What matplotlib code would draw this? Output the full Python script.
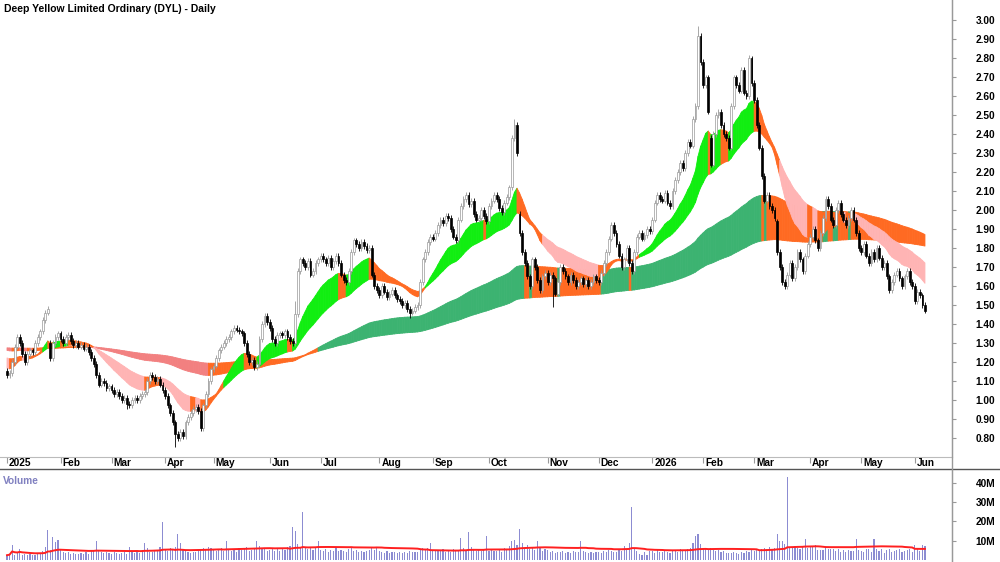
import numpy as np
import pandas as pd
import matplotlib
matplotlib.use("Agg")
import matplotlib.pyplot as plt
import matplotlib.transforms as mtransforms
from matplotlib.collections import PolyCollection
from matplotlib.lines import Line2D

plt.rcParams['font.family'] = ['Liberation Sans', 'DejaVu Sans']
plt.rcParams['font.weight'] = 'bold'

# daily closes
c_jan25 = [1.13, 1.14, 1.20, 1.28, 1.33, 1.30, 1.24, 1.20, 1.24, 1.26, 1.25, 1.30, 1.33, 1.36, 1.42, 1.46, 1.48, 1.22, 1.30, 1.33, 1.35]
c_feb25 = [1.32, 1.30, 1.33, 1.34, 1.31, 1.29, 1.30, 1.28, 1.29, 1.27, 1.28, 1.25, 1.22, 1.19, 1.13, 1.08, 1.10, 1.09, 1.06, 1.07]
c_mar25 = [1.05, 1.03, 1.04, 1.02, 1.00, 1.01, 0.98, 0.97, 1.00, 1.01, 1.00, 1.02, 1.03, 1.04, 1.10, 1.13, 1.12, 1.10, 1.11, 1.08, 1.05]
c_apr25 = [1.02, 0.97, 0.93, 0.88, 0.82, 0.80, 0.83, 0.81, 0.88, 0.91, 0.93, 0.95, 0.96, 0.94, 0.85, 0.97, 1.03, 1.10, 1.16]
c_may25 = [1.18, 1.22, 1.26, 1.28, 1.30, 1.32, 1.33, 1.36, 1.38, 1.37, 1.36, 1.35, 1.30, 1.24, 1.20, 1.21, 1.17, 1.19, 1.32, 1.40, 1.44, 1.41]
c_jun25 = [1.38, 1.32, 1.30, 1.34, 1.35, 1.34, 1.36, 1.33, 1.31, 1.30, 1.45, 1.68, 1.74, 1.72, 1.70, 1.73, 1.66, 1.68, 1.72, 1.74]
c_jul25 = [1.76, 1.74, 1.72, 1.75, 1.70, 1.73, 1.76, 1.72, 1.66, 1.63, 1.62, 1.68, 1.78, 1.84, 1.82, 1.80, 1.83, 1.81, 1.79, 1.80, 1.66, 1.60, 1.58]
c_aug25 = [1.55, 1.60, 1.57, 1.54, 1.56, 1.58, 1.55, 1.53, 1.52, 1.50, 1.51, 1.48, 1.46, 1.47, 1.49, 1.50, 1.62, 1.74, 1.78, 1.83, 1.86]
c_sep25 = [1.85, 1.88, 1.92, 1.95, 1.93, 1.97, 1.96, 1.90, 1.86, 1.84, 1.95, 2.02, 2.06, 2.08, 2.03, 2.05, 1.98, 1.95, 1.96, 2.00, 1.97, 1.94]
c_oct25 = [2.02, 2.05, 2.08, 2.06, 2.01, 1.99, 2.04, 2.07, 2.12, 2.38, 2.45, 2.30, 1.88, 1.78, 1.72, 1.65, 1.60, 1.74, 1.70, 1.63, 1.58, 1.65, 1.67]
c_nov25 = [1.62, 1.66, 1.64, 1.56, 1.62, 1.70, 1.68, 1.65, 1.62, 1.66, 1.63, 1.60, 1.62, 1.64, 1.61, 1.63, 1.60, 1.62, 1.65, 1.63]
c_dec25 = [1.62, 1.67, 1.72, 1.78, 1.85, 1.92, 1.88, 1.82, 1.76, 1.70, 1.74, 1.80, 1.72, 1.68, 1.78, 1.86, 1.88, 1.85, 1.87, 1.90, 1.89]
c_jan26 = [1.95, 2.04, 2.08, 2.06, 2.05, 2.09, 2.04, 2.02, 2.10, 2.16, 2.20, 2.25, 2.22, 2.30, 2.36, 2.34, 2.48, 2.55, 2.92, 2.78]
c_feb26 = [2.66, 2.70, 2.52, 2.24, 2.40, 2.50, 2.52, 2.45, 2.40, 2.38, 2.33, 2.55, 2.70, 2.66, 2.63, 2.74, 2.62, 2.60, 2.80, 2.67]
c_mar26 = [2.58, 2.45, 2.33, 2.18, 2.05, 2.08, 2.02, 2.00, 1.96, 1.78, 1.70, 1.62, 1.60, 1.66, 1.72, 1.64, 1.70, 1.78, 1.74, 1.68, 1.76, 1.82]
c_apr26 = [1.86, 1.90, 1.84, 1.80, 1.88, 1.96, 2.06, 2.02, 1.95, 1.92, 2.00, 2.04, 1.98, 1.95, 1.92, 1.96, 2.00, 1.95, 1.88, 1.80]
c_may26 = [1.78, 1.82, 1.76, 1.72, 1.78, 1.74, 1.80, 1.75, 1.70, 1.72, 1.65, 1.58, 1.62, 1.66, 1.68, 1.64, 1.60, 1.65, 1.68, 1.62, 1.60]
c_jun26 = [1.52, 1.57, 1.55, 1.50, 1.47]

# daily volume in millions
v_jan25 = [2.5, 3.0, 7.8, 2.8, 3.4, 5.7, 2.6, 3.0, 2.4, 3.2, 2.8, 2.5, 3.6, 3.0, 4.5, 6.5, 15.5, 5.0, 12.0, 9.3, 10.5]
v_feb25 = [5.5, 4.0, 3.5, 4.2, 3.0, 3.8, 3.2, 2.9, 3.5, 3.1, 4.0, 3.3, 4.6, 5.2, 10.0, 4.8, 4.1, 3.6, 3.9, 3.4]
v_mar25 = [3.2, 4.4, 3.6, 2.9, 3.8, 4.1, 3.3, 7.0, 4.0, 3.5, 4.3, 3.7, 5.0, 9.0, 6.2, 4.4, 3.9, 4.6, 5.1, 6.8, 19.7]
v_apr25 = [5.8, 4.9, 6.1, 5.2, 6.5, 13.5, 8.9, 5.4, 4.6, 4.1, 3.8, 4.4, 3.9, 4.7, 5.0, 6.2, 5.5, 7.0, 6.0]
v_may25 = [5.6, 4.8, 5.3, 6.0, 4.9, 10.0, 5.8, 4.7, 5.2, 4.4, 6.3, 5.0, 5.9, 6.8, 4.6, 5.1, 6.0, 10.0, 7.2, 6.4, 5.5, 4.9]
v_jun25 = [5.0, 6.2, 4.8, 5.5, 4.6, 5.9, 5.2, 6.6, 7.4, 17.0, 14.8, 8.5, 6.0, 25.0, 6.8, 5.7, 6.4, 5.3, 6.1, 10.0]
v_jul25 = [5.2, 4.6, 5.8, 4.3, 5.0, 4.8, 6.1, 4.5, 5.4, 4.9, 4.2, 5.6, 6.2, 4.7, 5.1, 4.4, 4.8, 3.9, 4.5, 5.3, 6.0, 5.2, 7.0]
v_aug25 = [4.6, 4.1, 3.8, 4.5, 3.6, 4.2, 3.9, 3.4, 4.4, 3.7, 4.0, 3.5, 4.8, 3.9, 4.3, 4.1, 5.6, 6.4, 5.8, 6.2, 9.0]
v_sep25 = [5.4, 4.8, 5.1, 4.6, 5.5, 4.2, 4.9, 4.4, 5.8, 4.5, 5.0, 11.5, 6.2, 5.3, 14.5, 6.8, 5.2, 4.7, 5.6, 4.9, 5.8, 12.4]
v_oct25 = [4.8, 5.2, 4.5, 4.9, 5.6, 4.3, 6.0, 5.4, 7.2, 10.0, 10.3, 8.0, 16.0, 9.0, 6.4, 7.6, 5.8, 6.3, 5.2, 10.0, 6.1, 4.8, 5.5]
v_nov25 = [5.3, 4.2, 4.8, 3.6, 4.4, 3.9, 4.6, 3.8, 4.1, 3.5, 4.7, 3.9, 4.3, 10.0, 4.9, 4.0, 3.7, 4.2, 3.6, 4.4]
v_dec25 = [4.1, 3.8, 4.6, 4.2, 5.0, 4.7, 3.9, 4.4, 5.2, 4.8, 7.5, 5.6, 9.0, 27.5, 6.2, 4.9, 3.2, 2.6, 4.0, 2.5, 4.5]
v_jan26 = [4.5, 3.6, 5.0, 4.4, 3.9, 4.8, 4.2, 3.7, 4.6, 5.4, 4.1, 5.8, 5.2, 4.7, 5.5, 6.2, 9.0, 12.6, 13.3, 8.5]
v_feb26 = [5.6, 6.0, 5.2, 6.4, 5.0, 4.6, 5.3, 4.2, 4.8, 3.6, 3.8, 3.7, 4.4, 3.5, 3.2, 4.0, 3.6, 4.9, 4.3, 5.5]
v_mar26 = [4.8, 5.6, 5.2, 5.8, 6.4, 5.9, 6.6, 5.4, 6.1, 13.3, 10.0, 10.0, 8.2, 43.0, 7.0, 6.0, 7.5, 6.4, 5.6, 6.8, 10.7, 6.2]
v_apr26 = [6.5, 6.9, 8.0, 5.4, 5.0, 5.2, 6.1, 5.8, 5.5, 5.7, 4.9, 5.6, 4.2, 5.3, 4.4, 5.0, 4.6, 4.8, 11.0, 5.4]
v_may26 = [4.9, 4.2, 5.6, 5.6, 4.4, 11.0, 5.8, 4.6, 5.5, 3.8, 5.2, 5.6, 4.0, 4.8, 5.3, 5.7, 4.3, 4.7, 5.1, 5.5, 4.4]
v_jun26 = [8.0, 5.6, 4.8, 8.0, 7.2]

# opening gaps, and wick extremes that stand out
gap_idx = [17, 201, 276, 296, 302]
gap_open = [1.30, 1.98, 2.38, 2.33, 1.94]
hi_idx = [16, 113, 199, 271, 291]
hi_val = [1.49, 1.52, 2.48, 2.97, 2.82]
lo_idx = [47, 66, 158, 214]
lo_val = [0.95, 0.75, 1.43, 1.49]
first_open = 1.15

# moving average groups and their starting levels (Dec 2024)
short_spans = [18, 21, 25, 30, 35, 40]
short_seed = [1.17, 1.185, 1.195, 1.205, 1.215, 1.225]
long_spans = [125, 150, 175, 200, 225, 250]
long_seed = [1.262, 1.265, 1.267, 1.27, 1.272, 1.275]

holidays = ["2025-01-27", "2025-04-18", "2025-04-21", "2025-04-25", "2025-06-09",
            "2025-12-25", "2025-12-26", "2026-01-01", "2026-01-26", "2026-04-03",
            "2026-04-06", "2026-06-08"]

close = np.array(c_jan25 + c_feb25 + c_mar25 + c_apr25 + c_may25 + c_jun25 + c_jul25 + c_aug25
                 + c_sep25 + c_oct25 + c_nov25 + c_dec25 + c_jan26 + c_feb26 + c_mar26 + c_apr26
                 + c_may26 + c_jun26)
volume = np.array(v_jan25 + v_feb25 + v_mar25 + v_apr25 + v_may25 + v_jun25 + v_jul25 + v_aug25
                  + v_sep25 + v_oct25 + v_nov25 + v_dec25 + v_jan26 + v_feb26 + v_mar26 + v_apr26
                  + v_may26 + v_jun26)
n = min(len(close), len(volume))
close = close[:n]
volume = volume[:n]
dates = pd.bdate_range("2025-01-02", periods=n, freq="C", holidays=holidays)
x = np.arange(n)

opens = np.r_[first_open, close[:-1]]
for i, o in zip(gap_idx, gap_open):
    opens[i] = o
wick = 0.015
high = np.maximum(opens, close) + wick
low = np.minimum(opens, close) - wick
for i, v in zip(hi_idx, hi_val):
    high[i] = max(high[i], v)
for i, v in zip(lo_idx, lo_val):
    low[i] = min(low[i], v)


def ema(vals, span, seed):
    a = 2.0 / (span + 1)
    out = np.empty(len(vals))
    p = seed
    for k, v in enumerate(vals):
        p += a * (v - p)
        out[k] = p
    return out


def ribbon(ax, spans, seeds, colors, z):
    lines = np.array([ema(close, s, sd) for s, sd in zip(spans, seeds)])
    d = np.diff(lines, axis=0)
    slope = np.r_[0, np.diff(lines[0])]
    bull = (d < 0).all(0) & (slope >= 0)
    bear = (d > 0).all(0) & (slope <= 0)
    state = np.where(bull, 0, np.where(bear, 1, 2))
    top, bot = lines.max(0), lines.min(0)
    polys, cols = [], []
    for i in range(1, n):
        polys.append([(i - 1, bot[i - 1]), (i, bot[i]), (i, top[i]), (i - 1, top[i - 1])])
        cols.append(colors[state[i]])
    ax.add_collection(PolyCollection(polys, facecolors=cols, edgecolors=cols,
                                     linewidths=0.6, zorder=z))


fig = plt.figure(figsize=(10, 5.62), dpi=100)
ax = fig.add_axes([0, 1 - 457 / 562, 0.952, 457 / 562])
axv = fig.add_axes([0, 0, 0.952, 93 / 562])

# ribbons: bullish / bearish / turning
ribbon(ax, long_spans, long_seed, ['#3cb371', '#f28080', '#ff6a22'], 1)
ribbon(ax, short_spans, short_seed, ['#11ee11', '#ffb4b4', '#ff6a22'], 2)

up = close >= opens
body_lo = np.minimum(opens, close)
body_h = np.maximum(np.abs(close - opens), 0.005)
ax.vlines(x[up], low[up], high[up], color='#999999', lw=0.6, zorder=3)
ax.vlines(x[~up], low[~up], high[~up], color='black', lw=0.6, zorder=3)
ax.bar(x[up], body_h[up], bottom=body_lo[up], width=0.72, facecolor='white',
       edgecolor='#999999', lw=0.5, zorder=4)
ax.bar(x[~up], body_h[~up], bottom=body_lo[~up], width=0.72, facecolor='black',
       edgecolor='black', lw=0.5, zorder=4)

xl = (-2.75, 370.6)
ax.set_xlim(*xl)
ax.set_ylim(0.698, 3.108)
ax.yaxis.tick_right()
ax.set_yticks(np.arange(0.8, 3.01, 0.1))
ax.set_yticklabels([f"{v:.2f}" for v in np.arange(0.8, 3.01, 0.1)])
ax.tick_params(axis='y', length=3, color='#999999', labelsize=7.3, pad=14)
for s in ['top', 'left']:
    ax.spines[s].set_visible(False)
ax.spines['right'].set_color('#999999')
ax.spines['bottom'].set_color('#bbbbbb')

# month ticks and labels
first = np.r_[0, np.where(dates.month[1:] != dates.month[:-1])[0] + 1]
ax.set_xticks(first)
ax.set_xticklabels([])
ax.tick_params(axis='x', length=4, color='#999999')
trans = mtransforms.offset_copy(ax.get_xaxis_transform(), fig=fig, x=2, y=-1.5, units='dots')
for i in first:
    d = dates[i]
    lab = str(d.year) if d.month == 1 else d.strftime('%b')
    ax.text(i, 0, lab, transform=trans, ha='left', va='top', fontsize=7.3, fontweight='bold')

fig.text(0.004, 0.992, 'Deep Yellow Limited Ordinary (DYL) - Daily', ha='left', va='top',
         fontsize=7.5, fontweight='bold')

# volume panel
axv.bar(x, volume, width=0.45, color='#8c8cd2', zorder=2)
avg = pd.Series(volume).rolling(50, min_periods=1).mean()
axv.plot(x, avg, color='#ff2020', lw=1.4, zorder=3)
axv.set_xlim(*xl)
axv.set_ylim(-1.04, 47.2)
axv.yaxis.tick_right()
axv.set_yticks([10, 20, 30, 40])
axv.set_yticklabels(['10M', '20M', '30M', '40M'])
axv.tick_params(axis='y', length=3, color='#999999', labelsize=7.3, pad=14)
axv.set_xticks([])
for s in ['top', 'left', 'bottom']:
    axv.spines[s].set_visible(False)
axv.spines['right'].set_color('#999999')
axv.text(0.003, 0.93, 'Volume', transform=axv.transAxes, ha='left', va='top',
         fontsize=7.3, fontweight='bold', color='#8080c0')

fig.add_artist(Line2D([0, 1], [93 / 562, 93 / 562], color='#555555', lw=1.0))
fig.add_artist(Line2D([0.952, 0.952], [0, 1], color='#999999', lw=1.0))

fig.savefig('out.png', dpi=100)
